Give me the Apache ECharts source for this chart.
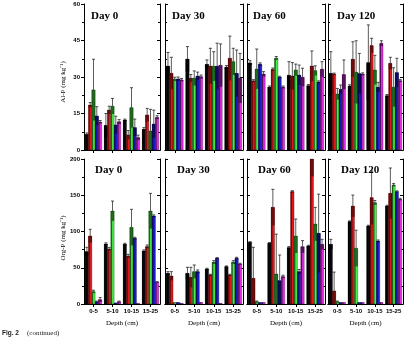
<!DOCTYPE html>
<html>
<head>
<meta charset="utf-8">
<script src="https://cdn.jsdelivr.net/npm/echarts@6/dist/echarts.min.js"></script>
<style>
  html, body { margin: 0; padding: 0; background: #fff; }
  #chart { width: 407px; height: 341px; }
</style>
</head>
<body>
<div id="chart"></div>
<script>
// Soil depth classes and treatment series (black, red, green, blue, magenta)
const depths = ['0-5', '5-10', '10-15', '15-25'];
const days = ['Day 0', 'Day 30', 'Day 60', 'Day 120'];
const alpTicks = [0, 15, 30, 45, 60];
const orgTicks = [0, 50, 100, 150, 200];

// Al-P (mg kg-1): one row per treatment, one value per depth
const alpDay0 = [[6.4, 10.1, 12.3, 8.5], [18.5, 16.4, 6.2, 14.4], [24.7, 18.0, 17.4, 7.8], [14.0, 10.3, 9.2, 10.7], [11.5, 11.6, 5.1, 13.4]];
const alpDay0Sd = [[0.6, 4.9, 0.4, 0.7], [1.0, 1.6, 1.8, 2.7], [12.6, 3.2, 8.2, 8.9], [3.8, 3.6, 3.5, 5.7], [0.6, 0.9, 1.0, 0.7]];
const alpDay30 = [[34.5, 37.4, 35.2, 34.0], [31.5, 29.5, 34.5, 37.7], [29.1, 29.5, 34.4, 36.3], [29.2, 30.4, 34.4, 31.5], [28.8, 30.1, 34.8, 29.5]];
const alpDay30Sd = [[5.6, 5.1, 1.8, 0.7], [6.6, 1.5, 7.3, 9.1], [0.8, 3.0, 6.0, 5.5], [0.8, 1.6, 9.5, 9.6], [0.6, 0.7, 8.8, 10.2]];
const alpDay60 = [[35.8, 25.8, 30.7, 26.4], [28.4, 33.1, 30.4, 34.5], [33.3, 37.7, 32.9, 32.6], [35.2, 29.9, 30.8, 27.9], [31.2, 25.8, 29.9, 33.2]];
const alpDay60Sd = [[0.9, 0.5, 5.6, 0.5], [0.5, 0.6, 5.5, 6.2], [8.2, 0.7, 2.4, 2.0], [0.6, 0.4, 4.1, 0.5], [1.0, 0.5, 3.7, 3.1]];
const alpDay120 = [[31.5, 26.3, 35.9, 22.3], [31.2, 37.3, 42.9, 35.6], [23.0, 32.0, 32.9, 25.8], [24.9, 31.4, 25.8, 31.8], [31.0, 31.2, 43.8, 28.5]];
const alpDay120Sd = [[8.9, 0.5, 15.5, 0.5], [0.4, 7.2, 3.0, 2.5], [2.3, 12.9, 6.0, 8.0], [1.8, 8.3, 2.0, 5.9], [6.0, 0.5, 1.1, 0.5]];

// Org-P (mg kg-1)
const orgDay0 = [[72.2, 82.8, 82.3, 73.1], [93.8, 75.9, 66.2, 79.1], [17.0, 128.3, 105.7, 128.3], [3.0, 1.5, 90.6, 121.4], [6.0, 3.0, 0.8, 29.9]];
const orgDay0Sd = [[6.0, 1.5, 1.5, 1.5], [9.2, 2.1, 2.3, 2.3], [2.0, 13.7, 24.9, 24.3], [1.0, 0.5, 1.4, 1.5], [3.0, 1.0, 0.3, 0.9]];
const orgDay30 = [[42.3, 42.3, 48.3, 51.5], [38.6, 36.8, 40.0, 40.0], [2.0, 44.6, 57.5, 57.5], [2.0, 44.6, 63.0, 63.0], [1.0, 2.0, 1.0, 55.2]];
const orgDay30Sd = [[2.3, 8.3, 1.0, 1.0], [6.0, 13.8, 1.0, 1.0], [0.5, 9.2, 2.3, 2.3], [0.5, 2.3, 1.0, 1.4], [0.3, 0.5, 0.3, 1.0]];
const orgDay60 = [[85.0, 83.7, 77.7, 80.0], [35.4, 133.3, 155.0, 200.0], [3.0, 41.4, 93.8, 110.3], [2.0, 32.2, 44.6, 97.5], [2.0, 37.7, 79.0, 82.3]];
const orgDay60Sd = [[1.0, 1.0, 1.5, 1.0], [42.8, 24.9, 1.3, 24.0], [1.0, 55.0, 23.4, 23.0], [0.5, 35.4, 3.0, 54.0], [0.5, 2.0, 8.4, 6.9]];
const orgDay120 = [[82.3, 113.6, 107.6, 135.2], [18.0, 135.2, 146.7, 152.6], [3.0, 76.8, 139.8, 164.1], [2.0, 2.0, 86.9, 155.0], [2.0, 2.0, 2.0, 144.4]];
const orgDay120Sd = [[6.9, 1.0, 1.0, 1.0], [26.0, 15.0, 37.0, 35.0], [1.0, 25.0, 3.0, 2.0], [0.5, 0.5, 1.4, 1.0], [0.5, 0.5, 0.5, 1.4]];

const topMeans = [alpDay0, alpDay30, alpDay60, alpDay120];
const topSds = [alpDay0Sd, alpDay30Sd, alpDay60Sd, alpDay120Sd];
const botMeans = [orgDay0, orgDay30, orgDay60, orgDay120];
const botSds = [orgDay0Sd, orgDay30Sd, orgDay60Sd, orgDay120Sd];

// Face colour and shade colour of each treatment
const bright = ['#0a0a0a', '#e3161b', '#44f044', '#1c1cd6', '#e22ae2'];
const shade = ['#000000', '#6e0b0b', '#1f6a1f', '#0b0b60', '#5a1160'];

const panelLeft = [84, 165, 247, 328];
const panelWidth = [76, 78, 78, 75];
const rowTop = [4, 159];
const rowHeight = [146, 145];

const SANS = 'Liberation Sans, Arial, sans-serif';
const SERIF = 'Liberation Serif, Times New Roman, serif';

// Bar with shaded left edge, shaded band from mean-SD to mean, and an upper error whisker
function renderBar(params, api) {
  const cat = api.value(0), s = api.value(1), m = api.value(2), sd = api.value(3);
  const band = api.size([1, 0])[0];
  const groupW = band * 0.87;
  const bw = groupW / 5;
  const base = api.coord([cat, 0]);
  const x0 = base[0] - groupW / 2 + s * bw;
  const cs = params.coordSys;
  const yBase = base[1];
  const yTop = Math.max(cs.y, api.coord([cat, m])[1]);
  const yLow = Math.max(cs.y, api.coord([cat, Math.max(0, m - sd)])[1]);
  const yErr = Math.max(cs.y, api.coord([cat, m + sd])[1]);
  const cx = x0 + bw / 2;
  const kids = [
    { type: 'rect', shape: { x: x0, y: yTop, width: bw, height: yBase - yTop }, style: { fill: bright[s] } },
    { type: 'rect', shape: { x: x0, y: yTop, width: bw * 0.38, height: yBase - yTop }, style: { fill: shade[s] } },
    { type: 'rect', shape: { x: x0, y: yTop, width: bw, height: yLow - yTop }, style: { fill: shade[s] } },
    { type: 'rect', shape: { x: x0, y: yTop, width: bw, height: yBase - yTop }, style: { fill: 'none', stroke: 'rgba(0,0,0,0.55)', lineWidth: 0.5 } }
  ];
  if (yErr < yTop - 0.5) {
    kids.push({ type: 'line', shape: { x1: cx, y1: yTop, x2: cx, y2: yErr }, style: { stroke: '#333', lineWidth: 0.8 } });
    if (yErr > cs.y + 0.5) {
      kids.push({ type: 'line', shape: { x1: cx - bw * 0.45, y1: yErr, x2: cx + bw * 0.45, y2: yErr }, style: { stroke: '#222', lineWidth: 0.8 } });
    }
  }
  return { type: 'group', children: kids };
}

const grids = [], xAxes = [], yAxes = [], series = [], titles = [];
for (let r = 0; r < 2; r++) {
  const ticks = r === 0 ? alpTicks : orgTicks;
  const ymin = ticks[0];
  const ymax = ticks[ticks.length - 1];
  const step = ticks[1] - ticks[0];
  for (let p = 0; p < 4; p++) {
    const g = r * 4 + p;
    grids.push({ left: panelLeft[p], width: panelWidth[p], top: rowTop[r], height: rowHeight[r] });
    const isLast = r === 1;
    xAxes.push({
      type: 'category', data: depths, gridIndex: g, position: 'bottom',
      axisLine: { lineStyle: { color: '#000', width: 1 } },
      axisTick: { show: true, alignWithLabel: true, length: 3, inside: false, lineStyle: { color: '#000' } },
      axisLabel: { show: isLast, interval: 0, hideOverlap: false, fontSize: 6, fontWeight: 'bold', fontFamily: SANS, color: '#000', margin: 4 },
      name: isLast ? 'Depth (cm)' : '', nameLocation: 'middle', nameGap: 16,
      nameTextStyle: { fontFamily: SERIF, fontSize: 7, color: '#000' },
      splitLine: { show: false }
    });
    xAxes.push({
      type: 'category', data: depths, gridIndex: g, position: 'top',
      axisLine: { lineStyle: { color: '#000', width: 1 } },
      axisTick: { show: true, alignWithLabel: true, length: 3, inside: true, lineStyle: { color: '#000' } },
      axisLabel: { show: false }, splitLine: { show: false }
    });
    const first = p === 0;
    yAxes.push({
      type: 'value', gridIndex: g, min: ymin, max: ymax, interval: step, position: 'left',
      axisLine: { show: true, lineStyle: { color: '#000', width: 1 } },
      axisTick: { show: true, length: 3, inside: !first, lineStyle: { color: '#000' } },
      minorTick: { show: true, splitNumber: 2, length: 2, lineStyle: { color: '#000' } },
      axisLabel: { show: first, fontSize: 6, fontWeight: 'bold', fontFamily: SANS, color: '#000', margin: 4 },
      splitLine: { show: false }, minorSplitLine: { show: false }
    });
    yAxes.push({
      type: 'value', gridIndex: g, min: ymin, max: ymax, interval: step, position: 'right',
      axisLine: { show: true, lineStyle: { color: '#000', width: 1 } },
      axisTick: { show: true, length: 3, inside: true, lineStyle: { color: '#000' } },
      minorTick: { show: true, splitNumber: 2, length: 2, lineStyle: { color: '#000' } },
      axisLabel: { show: false }, splitLine: { show: false }
    });
    const means = r === 0 ? topMeans[p] : botMeans[p];
    const sds = r === 0 ? topSds[p] : botSds[p];
    const data = [];
    for (let s = 0; s < 5; s++) {
      for (let c = 0; c < 4; c++) data.push([c, s, means[s][c], sds[s][c]]);
    }
    series.push({
      type: 'custom', xAxisIndex: g * 2, yAxisIndex: g * 2,
      renderItem: renderBar, encode: { x: 0, y: 2 }, data: data, silent: true
    });
    const dayLeft = r === 0 ? [91, 172, 253, 337][p] : [95, 177, 258, 341][p];
    titles.push({
      text: days[p], left: dayLeft, top: r === 0 ? 11 : 165, padding: 0,
      textStyle: { fontFamily: SERIF, fontWeight: 'bold', fontSize: 11, color: '#000' }
    });
  }
}

const chart = echarts.init(document.getElementById('chart'), null, { renderer: 'canvas' });
chart.setOption({
  animation: false,
  backgroundColor: '#fff',
  title: titles,
  grid: grids,
  xAxis: xAxes,
  yAxis: yAxes,
  series: series,
  graphic: [
    { type: 'text', x: 63, y: 82, rotation: Math.PI / 2,
      style: { text: 'Al-P (mg kg⁻¹)', fontFamily: SERIF, fontSize: 7, fill: '#000', align: 'center', verticalAlign: 'middle' } },
    { type: 'text', x: 63, y: 238, rotation: Math.PI / 2,
      style: { text: 'Org-P (mg kg⁻¹)', fontFamily: SERIF, fontSize: 7, fill: '#000', align: 'center', verticalAlign: 'middle' } },
    { type: 'text', x: 2, y: 333,
      style: { text: 'Fig. 2', fontFamily: SANS, fontSize: 6.5, fontWeight: 'bold', fill: '#222', verticalAlign: 'middle' } },
    { type: 'text', x: 27, y: 333,
      style: { text: '(continued)', fontFamily: SERIF, fontSize: 7, fill: '#222', verticalAlign: 'middle' } }
  ]
});
</script>
</body>
</html>
